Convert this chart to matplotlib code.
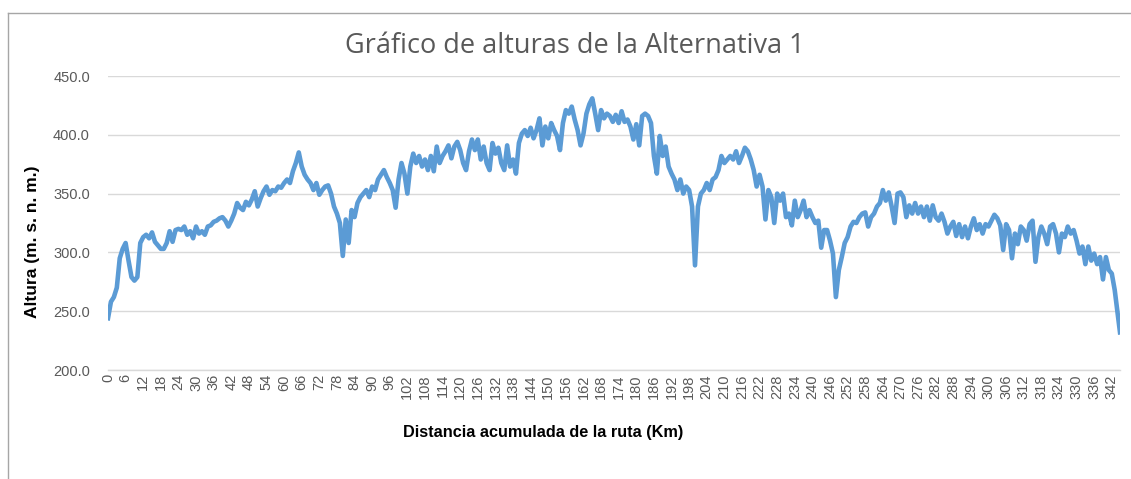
import matplotlib
matplotlib.use("Agg")
import matplotlib.pyplot as plt
from matplotlib.lines import Line2D
import numpy as np

# Elevation (m a.s.l.) read roughly every 1 km from the reference profile
alt_0_58 = [244, 258, 262, 270, 295, 303, 308, 293, 279, 276, 279, 308, 313, 315, 312, 317, 309, 306, 303, 303,
            308, 318, 309, 319, 320, 319, 322, 315, 318, 312, 322, 316, 318, 315, 322, 323, 326, 327, 329, 330,
            327, 322, 327, 333, 342, 338, 336, 343, 340, 345, 352, 339, 346, 352, 356, 349, 353, 352, 356]
alt_59_113 = [355, 359, 362, 359, 369, 376, 385, 373, 366, 362, 359, 353, 359, 349, 353, 356, 357, 350, 339, 333,
              325, 297, 328, 308, 336, 330, 342, 347, 350, 353, 347, 356, 353, 362, 366, 370, 364, 359, 353, 338,
              362, 376, 367, 350, 373, 384, 376, 382, 373, 379, 370, 382, 369, 390, 376]
alt_114_170 = [382, 386, 391, 380, 390, 394, 387, 376, 370, 386, 396, 387, 396, 379, 390, 376, 370, 393, 384, 389,
               376, 370, 391, 373, 379, 367, 393, 401, 404, 399, 406, 397, 404, 414, 391, 407, 397, 410, 404, 399,
               387, 410, 421, 418, 424, 413, 404, 391, 401, 418, 426, 431, 418, 404, 421, 414, 418]
alt_171_228 = [416, 411, 417, 410, 420, 411, 413, 407, 396, 409, 391, 416, 418, 416, 410, 382, 367, 399, 382, 390,
               373, 367, 362, 353, 362, 350, 356, 353, 339, 289, 339, 350, 353, 359, 353, 362, 364, 370, 382, 376,
               379, 382, 379, 386, 376, 382, 389, 386, 379, 370, 356, 366, 356, 328, 353, 347, 325, 350]
alt_229_286 = [344, 350, 330, 333, 323, 344, 330, 336, 344, 330, 336, 330, 325, 327, 304, 319, 319, 310, 299, 262,
               285, 296, 308, 313, 322, 326, 325, 330, 333, 334, 322, 330, 333, 339, 342, 353, 344, 351, 339, 325,
               350, 351, 347, 330, 340, 333, 342, 333, 339, 330, 339, 327, 340, 330, 327, 333, 326, 316]
alt_287_344 = [322, 326, 314, 324, 313, 322, 312, 322, 329, 319, 324, 316, 324, 322, 327, 332, 329, 323, 302, 324,
               319, 295, 316, 307, 322, 319, 310, 324, 327, 292, 313, 322, 316, 307, 322, 324, 316, 300, 316, 313,
               322, 316, 319, 310, 299, 305, 290, 305, 293, 299, 290, 296, 277, 296, 285, 282, 268, 248]
alt_end = [232]

altura = alt_0_58 + alt_59_113 + alt_114_170 + alt_171_228 + alt_229_286 + alt_287_344 + alt_end
distancia = list(range(0, len(altura) - 1)) + [344.8]

x_ticks = list(range(0, 343, 6))
y_ticks = [200, 250, 300, 350, 400, 450]

title = "Gráfico de alturas de la Alternativa 1"
xlabel = "Distancia acumulada de la ruta (Km)"
ylabel = "Altura (m. s. n. m.)"

W, H = 1131, 479
fig = plt.figure(figsize=(W / 100, H / 100), dpi=100)
fig.patch.set_facecolor("white")

ax = fig.add_axes([108 / W, 1 - 370 / H, (1120 - 108) / W, (370 - 76) / H])
ax.plot(distancia, altura, color="#5B9BD5", linewidth=3.3, solid_joinstyle="round", zorder=3)

ax.set_xlim(0, 344.8)
ax.set_ylim(200, 450)
ax.set_yticks(y_ticks)
ax.set_yticklabels([f"{v:.1f}" for v in y_ticks], family="Liberation Sans")
ax.set_xticks(x_ticks)
ax.set_xticklabels([str(v) for v in x_ticks], rotation=90, family="Liberation Sans")

for s in ["top", "right", "left"]:
    ax.spines[s].set_visible(False)
ax.spines["bottom"].set_color("#D9D9D9")
ax.spines["bottom"].set_linewidth(1.0)
ax.grid(axis="y", color="#D9D9D9", linewidth=1.0, zorder=0)
ax.set_axisbelow(True)
ax.tick_params(axis="both", length=0, colors="#595959")
ax.tick_params(axis="y", pad=13, labelsize=10.5)
ax.tick_params(axis="x", pad=3, labelsize=10.5)

fig.text(575 / W, 1 - 46 / H, title, ha="center", va="center", fontsize=19.5,
         color="#595959", family="Open Sans")
fig.text(543 / W, 1 - 432 / H, xlabel, ha="center", va="center", fontsize=11.7,
         fontweight="bold", color="black", family="Liberation Sans")
fig.text(33 / W, 1 - 242 / H, ylabel, ha="center", va="center", fontsize=12.5,
         fontweight="bold", color="black", rotation=90, family="Liberation Sans")

# chart-area border (top and left visible)
fig.add_artist(Line2D([8 / W, 1.0], [1 - 13 / H, 1 - 13 / H], transform=fig.transFigure,
                      color="#A6A6A6", linewidth=1.0))
fig.add_artist(Line2D([8 / W, 8 / W], [0, 1 - 13 / H], transform=fig.transFigure,
                      color="#A6A6A6", linewidth=1.0))

fig.savefig("out.png", dpi=100)
